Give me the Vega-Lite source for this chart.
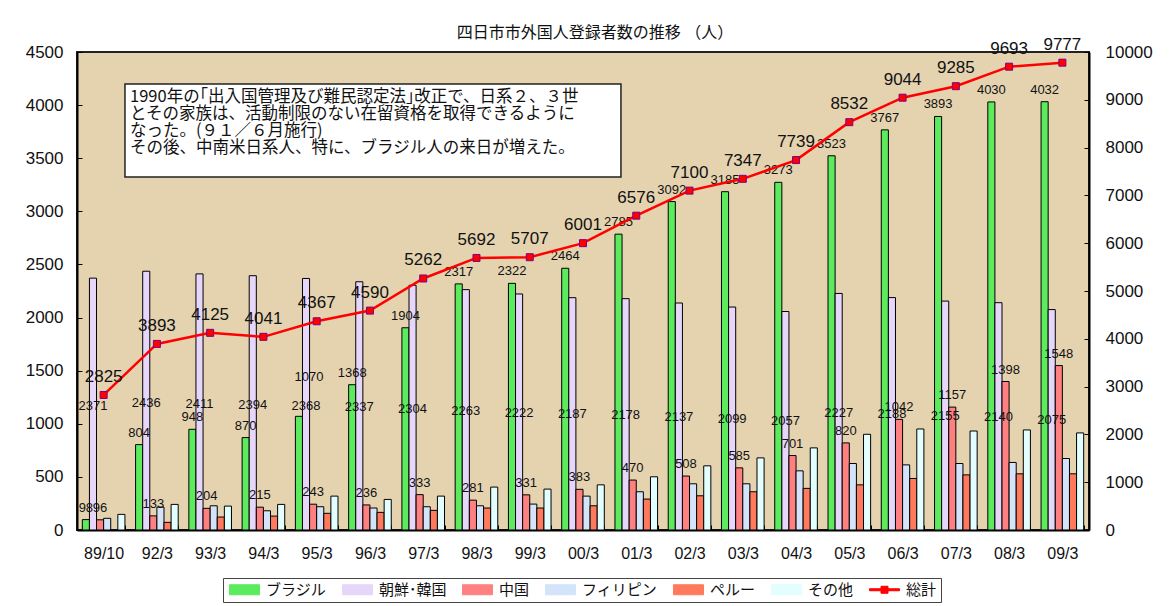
{
  "$schema": "https://vega.github.io/schema/vega-lite/v6.json",
  "width": 1012,
  "height": 478,
  "autosize": {"type": "none"},
  "padding": {"left": 77, "top": 52, "right": 87, "bottom": 76},
  "background": "white",
  "config": {
    "view": {"fill": "#E5D3B0", "stroke": "#222222", "strokeWidth": 2},
    "font": "Liberation Sans, Noto Sans CJK JP",
    "text": {"font": "Liberation Sans, Noto Sans CJK JP", "color": "#111111"}
  },
  "title": {
    "text": "四日市市外国人登録者数の推移 （人）",
    "font": "Liberation Sans, Noto Sans CJK JP",
    "fontSize": 16,
    "fontWeight": "normal",
    "color": "#111111",
    "offset": -5,
    "dx": 12
  },
  "datasets": {
    "bars": [
      {"year": "89/10", "group": "ブラジル", "count": 98},
      {"year": "92/3", "group": "ブラジル", "count": 804},
      {"year": "93/3", "group": "ブラジル", "count": 948},
      {"year": "94/3", "group": "ブラジル", "count": 870},
      {"year": "95/3", "group": "ブラジル", "count": 1070},
      {"year": "96/3", "group": "ブラジル", "count": 1368},
      {"year": "97/3", "group": "ブラジル", "count": 1904},
      {"year": "98/3", "group": "ブラジル", "count": 2317},
      {"year": "99/3", "group": "ブラジル", "count": 2322},
      {"year": "00/3", "group": "ブラジル", "count": 2464},
      {"year": "01/3", "group": "ブラジル", "count": 2785},
      {"year": "02/3", "group": "ブラジル", "count": 3092},
      {"year": "03/3", "group": "ブラジル", "count": 3185},
      {"year": "04/3", "group": "ブラジル", "count": 3273},
      {"year": "05/3", "group": "ブラジル", "count": 3523},
      {"year": "06/3", "group": "ブラジル", "count": 3767},
      {"year": "07/3", "group": "ブラジル", "count": 3893},
      {"year": "08/3", "group": "ブラジル", "count": 4030},
      {"year": "09/3", "group": "ブラジル", "count": 4032},
      {"year": "89/10", "group": "朝鮮･韓国", "count": 2371},
      {"year": "92/3", "group": "朝鮮･韓国", "count": 2436},
      {"year": "93/3", "group": "朝鮮･韓国", "count": 2411},
      {"year": "94/3", "group": "朝鮮･韓国", "count": 2394},
      {"year": "95/3", "group": "朝鮮･韓国", "count": 2368},
      {"year": "96/3", "group": "朝鮮･韓国", "count": 2337},
      {"year": "97/3", "group": "朝鮮･韓国", "count": 2304},
      {"year": "98/3", "group": "朝鮮･韓国", "count": 2263},
      {"year": "99/3", "group": "朝鮮･韓国", "count": 2222},
      {"year": "00/3", "group": "朝鮮･韓国", "count": 2187},
      {"year": "01/3", "group": "朝鮮･韓国", "count": 2178},
      {"year": "02/3", "group": "朝鮮･韓国", "count": 2137},
      {"year": "03/3", "group": "朝鮮･韓国", "count": 2099},
      {"year": "04/3", "group": "朝鮮･韓国", "count": 2057},
      {"year": "05/3", "group": "朝鮮･韓国", "count": 2227},
      {"year": "06/3", "group": "朝鮮･韓国", "count": 2188},
      {"year": "07/3", "group": "朝鮮･韓国", "count": 2155},
      {"year": "08/3", "group": "朝鮮･韓国", "count": 2140},
      {"year": "09/3", "group": "朝鮮･韓国", "count": 2075},
      {"year": "89/10", "group": "中国", "count": 96},
      {"year": "92/3", "group": "中国", "count": 133},
      {"year": "93/3", "group": "中国", "count": 204},
      {"year": "94/3", "group": "中国", "count": 215},
      {"year": "95/3", "group": "中国", "count": 243},
      {"year": "96/3", "group": "中国", "count": 236},
      {"year": "97/3", "group": "中国", "count": 333},
      {"year": "98/3", "group": "中国", "count": 281},
      {"year": "99/3", "group": "中国", "count": 331},
      {"year": "00/3", "group": "中国", "count": 383},
      {"year": "01/3", "group": "中国", "count": 470},
      {"year": "02/3", "group": "中国", "count": 508},
      {"year": "03/3", "group": "中国", "count": 585},
      {"year": "04/3", "group": "中国", "count": 701},
      {"year": "05/3", "group": "中国", "count": 820},
      {"year": "06/3", "group": "中国", "count": 1042},
      {"year": "07/3", "group": "中国", "count": 1157},
      {"year": "08/3", "group": "中国", "count": 1398},
      {"year": "09/3", "group": "中国", "count": 1548},
      {"year": "89/10", "group": "フィリピン", "count": 110},
      {"year": "92/3", "group": "フィリピン", "count": 216},
      {"year": "93/3", "group": "フィリピン", "count": 228},
      {"year": "94/3", "group": "フィリピン", "count": 181},
      {"year": "95/3", "group": "フィリピン", "count": 219},
      {"year": "96/3", "group": "フィリピン", "count": 207},
      {"year": "97/3", "group": "フィリピン", "count": 219},
      {"year": "98/3", "group": "フィリピン", "count": 228},
      {"year": "99/3", "group": "フィリピン", "count": 244},
      {"year": "00/3", "group": "フィリピン", "count": 319},
      {"year": "01/3", "group": "フィリピン", "count": 360},
      {"year": "02/3", "group": "フィリピン", "count": 435},
      {"year": "03/3", "group": "フィリピン", "count": 435},
      {"year": "04/3", "group": "フィリピン", "count": 557},
      {"year": "05/3", "group": "フィリピン", "count": 626},
      {"year": "06/3", "group": "フィリピン", "count": 613},
      {"year": "07/3", "group": "フィリピン", "count": 626},
      {"year": "08/3", "group": "フィリピン", "count": 636},
      {"year": "09/3", "group": "フィリピン", "count": 673},
      {"year": "92/3", "group": "ペルー", "count": 72},
      {"year": "93/3", "group": "ペルー", "count": 122},
      {"year": "94/3", "group": "ペルー", "count": 131},
      {"year": "95/3", "group": "ペルー", "count": 157},
      {"year": "96/3", "group": "ペルー", "count": 166},
      {"year": "97/3", "group": "ペルー", "count": 185},
      {"year": "98/3", "group": "ペルー", "count": 207},
      {"year": "99/3", "group": "ペルー", "count": 207},
      {"year": "00/3", "group": "ペルー", "count": 228},
      {"year": "01/3", "group": "ペルー", "count": 291},
      {"year": "02/3", "group": "ペルー", "count": 322},
      {"year": "03/3", "group": "ペルー", "count": 360},
      {"year": "04/3", "group": "ペルー", "count": 392},
      {"year": "05/3", "group": "ペルー", "count": 425},
      {"year": "06/3", "group": "ペルー", "count": 485},
      {"year": "07/3", "group": "ペルー", "count": 519},
      {"year": "08/3", "group": "ペルー", "count": 529},
      {"year": "09/3", "group": "ペルー", "count": 529},
      {"year": "89/10", "group": "その他", "count": 147},
      {"year": "92/3", "group": "その他", "count": 241},
      {"year": "93/3", "group": "その他", "count": 225},
      {"year": "94/3", "group": "その他", "count": 241},
      {"year": "95/3", "group": "その他", "count": 319},
      {"year": "96/3", "group": "その他", "count": 288},
      {"year": "97/3", "group": "その他", "count": 319},
      {"year": "98/3", "group": "その他", "count": 404},
      {"year": "99/3", "group": "その他", "count": 385},
      {"year": "00/3", "group": "その他", "count": 425},
      {"year": "01/3", "group": "その他", "count": 501},
      {"year": "02/3", "group": "その他", "count": 604},
      {"year": "03/3", "group": "その他", "count": 679},
      {"year": "04/3", "group": "その他", "count": 773},
      {"year": "05/3", "group": "その他", "count": 901},
      {"year": "06/3", "group": "その他", "count": 951},
      {"year": "07/3", "group": "その他", "count": 932},
      {"year": "08/3", "group": "その他", "count": 942},
      {"year": "09/3", "group": "その他", "count": 914}
    ],
    "totals": [
      {"year": "89/10", "total": 2825},
      {"year": "92/3", "total": 3893},
      {"year": "93/3", "total": 4125},
      {"year": "94/3", "total": 4041},
      {"year": "95/3", "total": 4367},
      {"year": "96/3", "total": 4590},
      {"year": "97/3", "total": 5262},
      {"year": "98/3", "total": 5692},
      {"year": "99/3", "total": 5707},
      {"year": "00/3", "total": 6001},
      {"year": "01/3", "total": 6576},
      {"year": "02/3", "total": 7100},
      {"year": "03/3", "total": 7347},
      {"year": "04/3", "total": 7739},
      {"year": "05/3", "total": 8532},
      {"year": "06/3", "total": 9044},
      {"year": "07/3", "total": 9285},
      {"year": "08/3", "total": 9693},
      {"year": "09/3", "total": 9777}
    ]
  },
  "layer": [
    {
      "layer": [
        {
          "data": {"name": "bars"},
          "layer": [
            {
              "mark": {"type": "bar", "stroke": "#000000", "strokeWidth": 1, "opacity": 1},
              "encoding": {
                "x": {
                  "field": "year", "type": "nominal",
                  "scale": {"domain": ["89/10","92/3","93/3","94/3","95/3","96/3","97/3","98/3","99/3","00/3","01/3","02/3","03/3","04/3","05/3","06/3","07/3","08/3","09/3"], "paddingInner": 0.2, "paddingOuter": 0.1},
                  "axis": {"title": null, "labelAngle": 0, "labelFontSize": 16, "labelColor": "#111111", "labelPadding": 20, "tickBand": "extent", "tickSize": -5, "tickColor": "#000000", "tickWidth": 1, "domainColor": "#000000", "domainWidth": 2, "labelFont": "Liberation Sans"}
                },
                "xOffset": {
                  "field": "group", "type": "nominal",
                  "scale": {"domain": ["ブラジル","朝鮮･韓国","中国","フィリピン","ペルー","その他"], "paddingInner": 0, "paddingOuter": 0}
                },
                "y": {
                  "field": "count", "type": "quantitative",
                  "scale": {"domain": [0, 4500], "nice": false},
                  "axis": {"title": null, "format": "d", "values": [0,500,1000,1500,2000,2500,3000,3500,4000,4500], "grid": false, "labelFontSize": 17, "labelColor": "#111111", "labelPadding": 19, "tickSize": -5, "tickColor": "#000000", "domainColor": "#000000", "domainWidth": 2, "labelFont": "Liberation Sans"}
                },
                "color": {
                  "field": "group", "type": "nominal",
                  "scale": {
                    "domain": ["ブラジル","朝鮮･韓国","中国","フィリピン","ペルー","その他","総計"],
                    "range": ["#5CEB5C","#E6D6FA","#FF8080","#D2E3FA","#FF7A5C","#E2FEFF","#FF0000"]
                  },
                  "legend": {
                    "title": null,
                    "orient": "none",
                    "legendX": 146,
                    "legendY": 526,
                    "direction": "horizontal",
                    "labelFont": "Noto Sans CJK JP",
                    "labelFontSize": 15,
                    "labelColor": "#111111",
                    "labelOffset": 14,
                    "columnPadding": 13,
                    "symbolType": "M-3,-1H3V1H-3Z",
                    "symbolSize": 100,
                    "symbolOffset": 10,
                    "symbolStrokeColor": "#000000",
                    "symbolStrokeWidth": 1,
                    "symbolOpacity": 1,
                    "strokeColor": "#444444",
                    "fillColor": "#FFFFFF",
                    "padding": 4,
                    "encode": {
                      "symbols": {
                        "update": {
                          "shape": [
                            {"test": "datum.label === '総計'", "value": "M-3,-0.2H-0.7V-0.7H0.7V-0.2H3V0.2H0.7V0.7H-0.7V0.2H-3Z"},
                            {"value": "M-3,-1H3V1H-3Z"}
                          ],
                          "fill": {"scale": "color", "field": "value"},
                          "stroke": [
                            {"test": "datum.label === '総計'", "value": "#FF0000"},
                            {"value": "#000000"}
                          ],
                          "strokeWidth": {"value": 1},
                          "opacity": {"value": 1}
                        }
                      }
                    }
                  }
                }
              }
            },
            {
              "transform": [{"filter": "(datum.group === 'ブラジル' && datum.year !== '95/3') || datum.group === '中国'"}],
              "mark": {"type": "text", "baseline": "middle", "dy": -12, "fontSize": 13, "font": "Liberation Sans"},
              "encoding": {
                "x": {"field": "year", "type": "nominal"},
                "xOffset": {"field": "group", "type": "nominal"},
                "y": {"field": "count", "type": "quantitative"},
                "text": {"field": "count", "type": "quantitative"}
              }
            },
            {
              "transform": [{"filter": "datum.group === 'ブラジル' && datum.year === '95/3'"}],
              "mark": {"type": "text", "baseline": "middle", "dy": -39, "dx": 10, "fontSize": 13, "font": "Liberation Sans"},
              "encoding": {
                "x": {"field": "year", "type": "nominal"},
                "xOffset": {"field": "group", "type": "nominal"},
                "y": {"field": "count", "type": "quantitative"},
                "text": {"field": "count", "type": "quantitative"}
              }
            }
          ]
        },
        {
          "layer": [
            {
              "data": {"name": "totals"},
              "mark": {"type": "line", "strokeWidth": 2.5},
              "encoding": {
                "x": {"field": "year", "type": "nominal"},
                "y": {
                  "field": "total", "type": "quantitative",
                  "scale": {"domain": [0, 10000], "nice": false},
                  "axis": {"orient": "right", "title": null, "format": "d", "values": [0,1000,2000,3000,4000,5000,6000,7000,8000,9000,10000], "grid": false, "labelFontSize": 17, "labelColor": "#111111", "labelPadding": 21, "tickSize": -5, "tickColor": "#000000", "domainColor": "#000000", "domainWidth": 2, "labelFont": "Liberation Sans"}
                },
                "color": {"datum": "総計"}
              }
            },
            {
              "data": {"name": "totals"},
              "mark": {"type": "point", "shape": "square", "filled": true, "size": 49, "fill": "#FF0000", "stroke": "#800080", "strokeWidth": 1, "opacity": 1},
              "encoding": {
                "x": {"field": "year", "type": "nominal"},
                "y": {"field": "total", "type": "quantitative"}
              }
            },
            {
              "data": {"name": "totals"},
              "mark": {"type": "text", "baseline": "middle", "dy": -18, "fontSize": 17, "font": "Liberation Sans"},
              "encoding": {
                "x": {"field": "year", "type": "nominal"},
                "y": {"field": "total", "type": "quantitative"},
                "text": {"field": "total", "type": "quantitative"}
              }
            },
            {
              "data": {"name": "bars"},
              "transform": [{"filter": "datum.group === '朝鮮･韓国'"}],
              "mark": {"type": "text", "baseline": "middle", "dy": -11, "fontSize": 13, "font": "Liberation Sans"},
              "encoding": {
                "x": {"field": "year", "type": "nominal"},
                "xOffset": {"field": "group", "type": "nominal"},
                "y": {"field": "count", "type": "quantitative"},
                "text": {"field": "count", "type": "quantitative"}
              }
            }
          ]
        }
      ],
      "resolve": {"scale": {"y": "independent"}}
    },
    {
      "data": {"values": [{"note": "1990年の｢出入国管理及び難民認定法｣改正で、日系２、３世\nとその家族は、活動制限のない在留資格を取得できるように\nなった。(９１／６月施行)\nその後、中南米日系人、特に、ブラジル人の来日が増えた。"}]},
      "layer": [
        {
          "mark": {"type": "rect", "fill": "#FFFFFF", "stroke": "#222222", "strokeWidth": 1.5},
          "encoding": {
            "x": {"datum": 0.0474, "type": "quantitative", "scale": {"domain": [0, 1], "nice": false}, "axis": null},
            "x2": {"datum": 0.5375},
            "y": {"datum": 4199, "type": "quantitative", "scale": {"domain": [0, 4500], "nice": false}, "axis": null},
            "y2": {"datum": 3323}
          }
        },
        {
          "mark": {"type": "text", "align": "left", "baseline": "top", "lineBreak": "\n", "lineHeight": 16.8, "fontSize": 16.5, "font": "Noto Sans CJK JP", "color": "#111111"},
          "encoding": {
            "x": {"datum": 0.0524, "type": "quantitative"},
            "y": {"datum": 4150, "type": "quantitative"},
            "text": {"field": "note", "type": "nominal"}
          }
        }
      ]
    }
  ],
  "resolve": {"scale": {"x": "independent", "y": "independent"}}
}
